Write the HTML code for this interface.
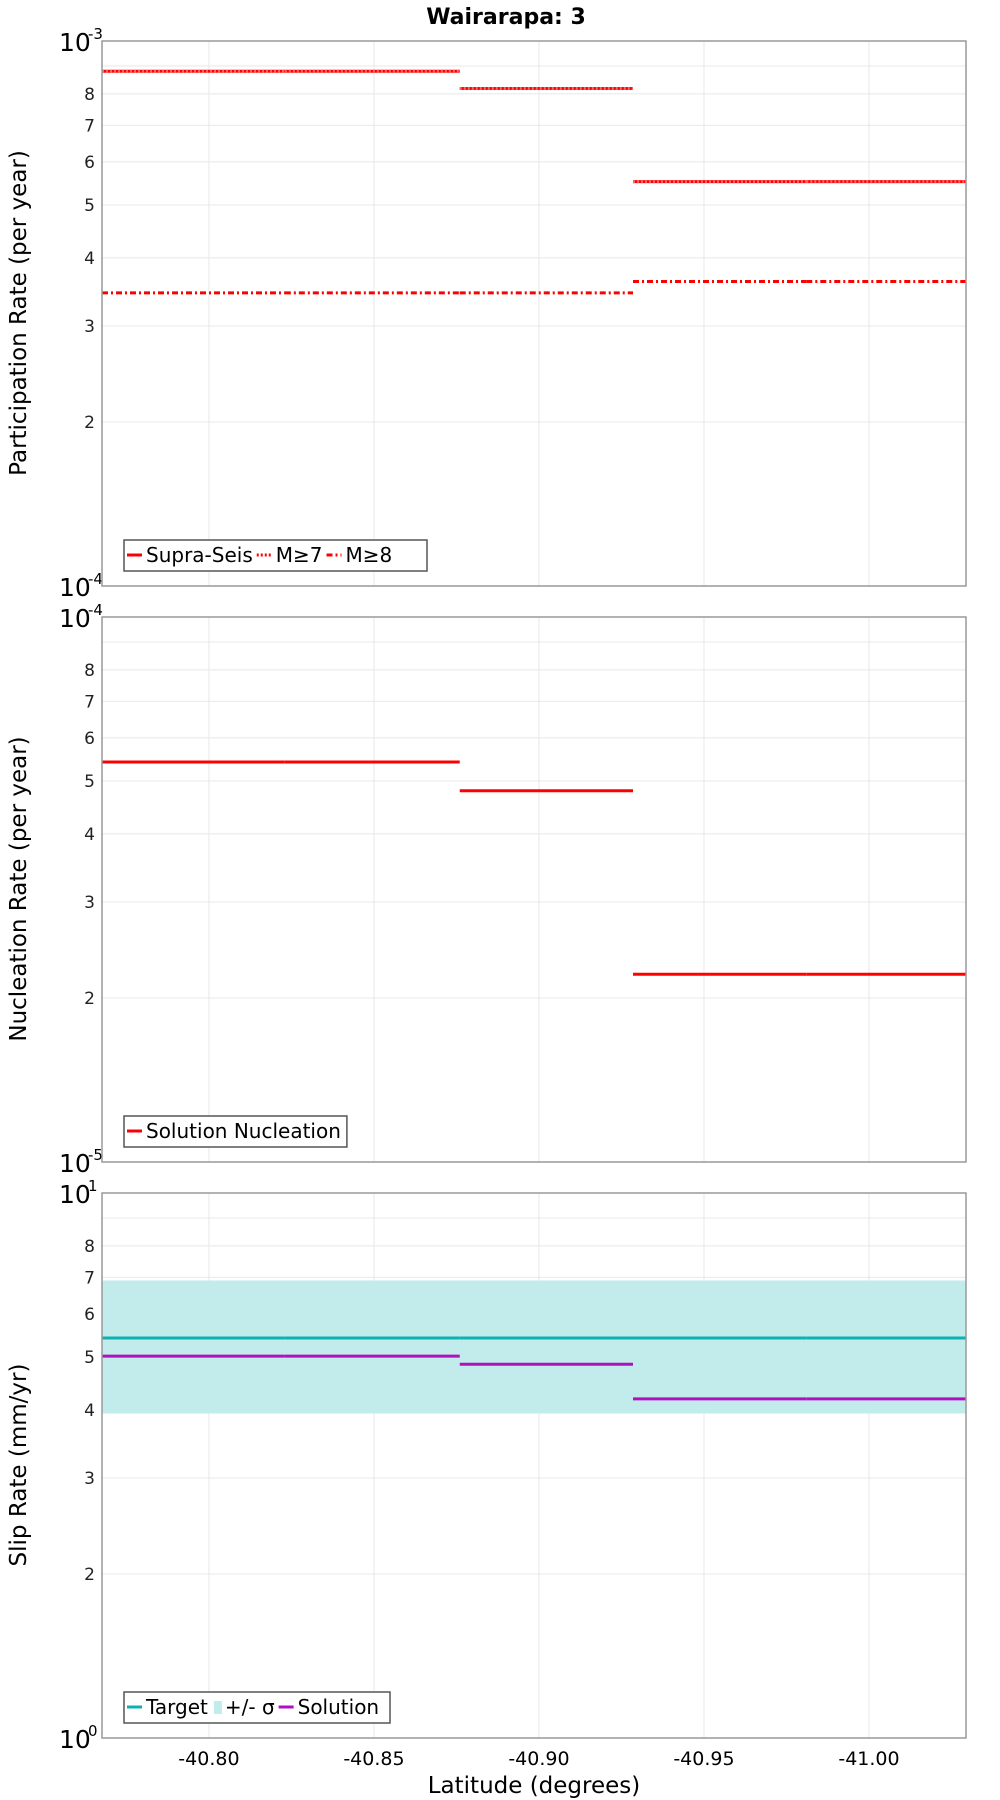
<!DOCTYPE html>
<html><head><meta charset="utf-8"><style>
body{margin:0;background:#fff;}
svg{display:block;font-family:"DejaVu Sans","Liberation Sans",sans-serif;}
</style></head><body>
<svg id="chart" width="1000" height="1800" viewBox="0 0 1000 1800"></svg>
<script>
const segBounds = [-40.7676, -40.823, -40.876, -40.9285, -40.981, -41.0294];
const supraSeis = [8.8e-4, 8.8e-4, 8.18e-4, 5.52e-4, 5.52e-4];
const m7 = [8.8e-4, 8.8e-4, 8.18e-4, 5.52e-4, 5.52e-4];
const m8 = [3.45e-4, 3.45e-4, 3.45e-4, 3.62e-4, 3.62e-4];
const nucleation = [5.42e-5, 5.42e-5, 4.8e-5, 2.21e-5, 2.21e-5];
const target = [5.42, 5.42, 5.42, 5.42, 5.42];
const sigmaLow = [3.94, 3.94, 3.94, 3.94, 3.94];
const sigmaHigh = [6.91, 6.91, 6.91, 6.91, 6.91];
const solution = [5.02, 5.02, 4.85, 4.19, 4.19];
const xTicks = [-40.80, -40.85, -40.90, -40.95, -41.00];
const xTickLabels = ["-40.80", "-40.85", "-40.90", "-40.95", "-41.00"];
const minorTicks = [2, 3, 4, 5, 6, 7, 8, 9];
const minorLabels = ["2", "3", "4", "5", "6", "7", "8"];

const NS = "http://www.w3.org/2000/svg";
const svg = document.getElementById('chart');
const L = 102, R = 966;
const X0 = -40.7676, X1 = -41.0294;
function xs(v){ return L + (v - X0) / (X1 - X0) * (R - L); }
function mk(tag, attrs, parent){
  const e = document.createElementNS(NS, tag);
  for (const k in attrs) e.setAttribute(k, attrs[k]);
  (parent || svg).appendChild(e);
  return e;
}
function txt(s, attrs, parent){ const e = mk('text', attrs, parent); e.textContent = s; return e; }

const title = txt('Wairarapa: 3', {x: 506, y: 24, 'text-anchor': 'middle', 'font-size': 22, 'font-weight': 'bold'});



function panel(name, top, exp, ylabel){
  const bot = top + 545;
  const g = mk('g', {});
  
  
  const ys = v => bot - (Math.log10(v) - exp) * 545;
  minorTicks.forEach(m => {
    const y = ys(m * Math.pow(10, exp));
    mk('line', {x1: L, x2: R, y1: y, y2: y, stroke: '#e8e8e8', 'stroke-width': 1}, g);
  });
  xTicks.forEach(t => mk('line', {x1: xs(t), x2: xs(t), y1: top, y2: bot, stroke: '#e8e8e8', 'stroke-width': 1}, g));
  minorLabels.forEach((s, i) => {
    const y = ys(minorTicks[i] * Math.pow(10, exp));
    txt(s, {x: 95, y: y + 6, 'text-anchor': 'end', 'font-size': 17, fill: '#222'}, g);
  });
  txt('10', {x: 59, y: top + 10, 'font-size': 25}, g);
  txt(String(exp + 1), {x: 88, y: top - 2, 'font-size': 15}, g);
  txt('10', {x: 59, y: bot + 10, 'font-size': 25}, g);
  txt(String(exp), {x: 88, y: bot - 2, 'font-size': 15}, g);
  const yl = txt(ylabel, {x: 0, y: 0, 'text-anchor': 'middle', 'font-size': 23, transform: `translate(26,${top + 272}) rotate(-90)`}, g);
  
  
  return {g, ys, top, bot};
}
function seriesLines(p, vals, color, dash, name){
  vals.forEach((v, i) => {
    const y = p.ys(v);
    const ln = mk('line', {x1: xs(segBounds[i]), x2: xs(segBounds[i + 1]), y1: y, y2: y, stroke: color, 'stroke-width': 3, 'stroke-dasharray': dash || 'none'}, p.g);
    
    
  });
}
function frame(p){ mk('rect', {x: L, y: p.top, width: R - L, height: 545, fill: 'none', stroke: '#999', 'stroke-width': 1.5}, p.g); }
function legend(p, w, items){
  const lg = mk('g', {}, p.g);
  
  
  const y0 = p.bot - 46;
  const box = mk('rect', {x: 124, y: y0, width: w, height: 31, fill: '#fff', stroke: '#555', 'stroke-width': 1.5}, lg);
  let x = 127;
  items.forEach(it => {
    if (it.box) mk('rect', {x: x + 2, y: y0 + 9, width: 8, height: 13, fill: it.color}, lg);
    else mk('line', {x1: x, x2: x + 15, y1: y0 + 15, y2: y0 + 15, stroke: it.color, 'stroke-width': 3, 'stroke-dasharray': it.dash || 'none'}, lg);
    const t = txt(it.label, {x: x + (it.box ? 13 : 19), y: y0 + 22, 'font-size': 20}, lg);
    x += (it.box ? 13 : 19) + t.getComputedTextLength() + 4;
  });
  box.setAttribute('width', Math.max(w, x - 124 + 2));
}

const p1 = panel('participation-panel', 41, -4, 'Participation Rate (per year)');
seriesLines(p1, supraSeis, '#ff0000', null, 'supra-seis');
seriesLines(p1, m7, '#ff6060', '2,2', 'm7');
seriesLines(p1, m8, '#ff0000', '6,3,2,3', 'm8');
frame(p1);
legend(p1, 303, [{label: 'Supra-Seis', color: '#f00'}, {label: 'M≥7', color: '#f00', dash: '2,2'}, {label: 'M≥8', color: '#f00', dash: '6,3,2,3'}]);

const p2 = panel('nucleation-panel', 617, -5, 'Nucleation Rate (per year)');
seriesLines(p2, nucleation, '#ff0000', null, 'nucleation');
frame(p2);
legend(p2, 221, [{label: 'Solution Nucleation', color: '#f00'}]);

const p3 = panel('slip-panel', 1193, 0, 'Slip Rate (mm/yr)');
sigmaHigh.forEach((v, i) => {
  const y1 = p3.ys(v), y2 = p3.ys(sigmaLow[i]);
  const r = mk('rect', {x: xs(segBounds[i]), y: y1, width: xs(segBounds[i + 1]) - xs(segBounds[i]) + 0.5, height: y2 - y1, fill: '#c2ecec'}, p3.g);
  
  
});
seriesLines(p3, target, '#10b0b0', null, 'target');
seriesLines(p3, solution, '#b010c0', null, 'solution');
frame(p3);
legend(p3, 266, [{label: 'Target', color: '#10b0b0'}, {label: '+/- σ', color: '#c2ecec', box: true}, {label: 'Solution', color: '#b010c0'}]);

xTicks.forEach((t, i) => {
  const e = txt(xTickLabels[i], {x: xs(t), y: 1765, 'text-anchor': 'middle', 'font-size': 19}, svg);
  
  
});
const xt = txt('Latitude (degrees)', {x: 534, y: 1793, 'text-anchor': 'middle', 'font-size': 23});


</script>
</body></html>
